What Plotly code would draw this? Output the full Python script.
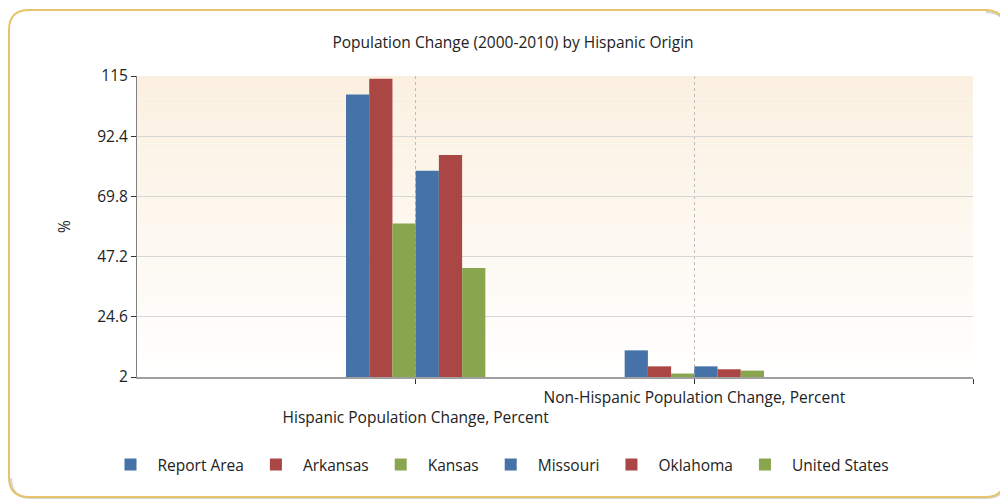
import plotly.graph_objects as go

# ---- data ----
categories = ["Hispanic Population Change, Percent", "Non-Hispanic Population Change, Percent"]
series_names = ["Report Area", "Arkansas", "Kansas", "Missouri", "Oklahoma", "United States"]
report_area = [108.1, 12.0]
arkansas = [114.0, 6.0]
kansas = [59.6, 3.3]
missouri = [79.4, 6.0]
oklahoma = [85.3, 4.9]
united_states = [42.9, 4.4]
y_ticks = [2, 24.6, 47.2, 69.8, 92.4, 115]
title_text = "Population Change (2000-2010) by Hispanic Origin"

series_values = [report_area, arkansas, kansas, missouri, oklahoma, united_states]
colors = ["#4572A7", "#AA4643", "#89A54E", "#4572A7", "#AA4643", "#89A54E"]

# page body has an 8px margin, so the figure is drawn 8px smaller and shifted
OFF = 8
W, H = 1008 - OFF, 502 - OFF
L, R, T, B = 137 - OFF, 973 - OFF, 76 - OFF, 377 - OFF  # plot area pixels in figure
FONT = "Open Sans"
FS = 15.5
TXT = "#222222"

x_pos = list(range(len(categories)))

fig = go.Figure()
for name, vals, col in zip(series_names, series_values, colors):
    fig.add_trace(go.Bar(x=x_pos, y=vals, name=name, marker=dict(color=col, line=dict(width=0))))

# staggered category labels: first label pushed down one line
ticktext = []
for i, c in enumerate(categories):
    ticktext.append(("<br>" + c) if i % 2 == 0 else c)
ticktext.append("")

def px_x(px):
    return (px - OFF - L) / (R - L)

def px_y(py):
    return (B - (py - OFF)) / (B - T)

shapes = []
# background gradient of plot area
n = 40
top_c = (251, 240, 224)
bot_c = (255, 255, 255)
for i in range(n):
    t = i / (n - 1)
    c = tuple(round(top_c[k] + (bot_c[k] - top_c[k]) * t) for k in range(3))
    shapes.append(dict(type="rect", xref="paper", yref="paper", layer="below",
                       x0=0, x1=1, y0=1 - (i + 1) / n, y1=1 - i / n,
                       fillcolor="rgb(%d,%d,%d)" % c, line=dict(width=0)))

# rounded outer border (reference-image pixel coordinates)
x0, x1, y0, y1, r = 9, 1005, 10, 497, 20
def P(a, b):
    return "%.5f,%.5f" % (px_x(a), px_y(b))
path = ("M " + P(x0 + r, y0) + " L " + P(x1 - r, y0) + " Q " + P(x1, y0) + " " + P(x1, y0 + r)
        + " L " + P(x1, y1 - r) + " Q " + P(x1, y1) + " " + P(x1 - r, y1)
        + " L " + P(x0 + r, y1) + " Q " + P(x0, y1) + " " + P(x0, y1 - r)
        + " L " + P(x0, y0 + r) + " Q " + P(x0, y0) + " " + P(x0 + r, y0) + " Z")
# soft shadow
sx0, sx1, sy0, sy1 = x0 + 2, x1 + 1, y0 + 2, y1 + 1
spath = ("M " + P(sx1 - r, sy0) + " Q " + P(sx1, sy0) + " " + P(sx1, sy0 + r)
         + " L " + P(sx1, sy1 - r) + " Q " + P(sx1, sy1) + " " + P(sx1 - r, sy1)
         + " L " + P(sx0 + r, sy1) + " Q " + P(sx0, sy1) + " " + P(sx0, sy1 - r))
shapes.append(dict(type="path", xref="paper", yref="paper", layer="below", path=spath,
                   line=dict(color="rgba(160,160,160,0.45)", width=2)))
shapes.append(dict(type="path", xref="paper", yref="paper", layer="below", path=path,
                   fillcolor="rgba(0,0,0,0)", line=dict(color="#E6C46C", width=2)))

fig.update_layout(
    width=W, height=H,
    margin=dict(l=L, r=W - R, t=T, b=H - B, autoexpand=False),
    paper_bgcolor="white", plot_bgcolor="rgba(0,0,0,0)",
    font=dict(family=FONT, size=FS, color=TXT),
    title=dict(text=title_text, x=(513 - OFF) / W, xref="container", xanchor="center",
               y=1 - (43 - OFF) / H, yref="container", yanchor="middle",
               font=dict(family=FONT, size=FS, color=TXT)),
    barmode="group", bargap=0.5, bargroupgap=0,
    shapes=shapes,
    showlegend=True,
    legend=dict(orientation="h", x=(499 - OFF) / W, xref="container", xanchor="center",
                y=1 - (465 - OFF) / H, yref="container", yanchor="middle",
                font=dict(family=FONT, size=FS, color=TXT),
                itemwidth=44, traceorder="normal"),
)

fig.update_xaxes(range=[-1, 2], tickmode="array", tickvals=list(range(len(categories) + 1)),
                 ticktext=ticktext, tickangle=0, showgrid=True, gridcolor="#BDBDBD", griddash="dot",
                 gridwidth=1, showline=True, linecolor="#A0A0A0", linewidth=2,
                 ticks="outside", ticklen=5, tickcolor="#333333",
                 tickfont=dict(family=FONT, size=FS, color=TXT),
                 zeroline=False, fixedrange=True)
fig.update_yaxes(range=[2, 115], tickmode="array", tickvals=y_ticks,
                 ticktext=[("%g" % v) for v in y_ticks],
                 showgrid=True, gridcolor="#D6D6D6", gridwidth=1,
                 showline=True, linecolor="#808080", linewidth=1,
                 ticks="outside", ticklen=5, tickcolor="#333333",
                 tickfont=dict(family=FONT, size=FS, color=TXT),
                 title=dict(text="%", standoff=22, font=dict(family=FONT, size=FS, color=TXT)),
                 zeroline=False, fixedrange=True)

fig.write_html("out.html")
